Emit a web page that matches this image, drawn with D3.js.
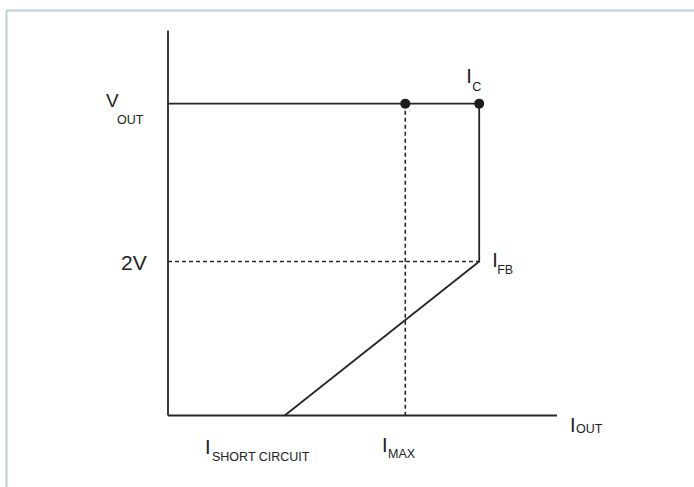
<!DOCTYPE html>
<html>
<head>
<meta charset="utf-8">
<script src="https://cdn.jsdelivr.net/npm/d3@7"></script>
<style>
  body { margin: 0; background: #fff; }
  svg { display: block; }
</style>
</head>
<body>
<div id="chart"></div>
<script>
// axis positions (arbitrary units, 0..100)
const xMarks = ["SHORT CIRCUIT", "MAX", "C"];
const xMarkValues = [30, 61, 80];
const yMarks = ["2V", "OUT"];
const yMarkValues = [40, 81];

// solid I-V curve: Vout plateau, drop at Ic, foldback to short circuit
const curveX = [0, 80, 80, 30];
const curveY = [81, 81, 40, 0];

// dots on the Vout line
const dotX = [61, 80];
const dotY = [81, 81];

const width = 694, height = 487;
const ink = "#262626";

const svg = d3.select("#chart").append("svg")
    .attr("width", width)
    .attr("height", height)
    .style("font-family", "'Liberation Sans', Arial, sans-serif");

// frame
svg.append("rect")
    .attr("x", 6.5).attr("y", 10.5)
    .attr("width", width).attr("height", height)
    .attr("fill", "none")
    .attr("stroke", "#bcd2db")
    .attr("stroke-width", 2);

const x = d3.scaleLinear().domain([0, 100]).range([168, 557]);
const y = d3.scaleLinear().domain([0, 100]).range([415.5, 30.5]);

// axes
svg.append("line")
    .attr("x1", x(0)).attr("x2", x(0))
    .attr("y1", y(0)).attr("y2", y(100))
    .attr("stroke", ink).attr("stroke-width", 1.8);
svg.append("line")
    .attr("x1", x(0)).attr("x2", x(100))
    .attr("y1", y(0)).attr("y2", y(0))
    .attr("stroke", ink).attr("stroke-width", 1.8);

// dashed guides: 2V horizontal to Ifb, Imax vertical
svg.append("line")
    .attr("x1", x(0)).attr("x2", x(xMarkValues[2]))
    .attr("y1", y(yMarkValues[0])).attr("y2", y(yMarkValues[0]))
    .attr("stroke", ink).attr("stroke-width", 1.6)
    .attr("stroke-dasharray", "4,3");
svg.append("line")
    .attr("x1", x(xMarkValues[1])).attr("x2", x(xMarkValues[1]))
    .attr("y1", y(yMarkValues[1])).attr("y2", y(0))
    .attr("stroke", ink).attr("stroke-width", 1.6)
    .attr("stroke-dasharray", "4,3");

// curve
const line = d3.line().x(d => x(d[0])).y(d => y(d[1]));
svg.append("path")
    .attr("d", line(d3.zip(curveX, curveY)))
    .attr("fill", "none")
    .attr("stroke", ink)
    .attr("stroke-width", 1.8);

svg.selectAll(".dot")
    .data(d3.zip(dotX, dotY))
    .enter().append("circle")
    .attr("class", "dot")
    .attr("cx", d => x(d[0]))
    .attr("cy", d => y(d[1]))
    .attr("r", 5)
    .attr("fill", "#1e1e1e");

// label helper: main letter + subscript
function label(px, py, main, sub, mainSize, subDx, subDy) {
    const t = svg.append("text")
        .attr("x", px).attr("y", py)
        .attr("fill", "#222")
        .style("font-size", mainSize + "px");
    t.append("tspan").text(main);
    if (sub) {
        t.append("tspan")
            .attr("x", px + subDx)
            .attr("dy", subDy)
            .style("font-size", "12.5px")
            .text(sub);
    }
}

// y labels
label(106, y(yMarkValues[1]) + 3, "V", yMarks[1], 19, 11, 17);
svg.append("text")
    .attr("x", 121).attr("y", y(yMarkValues[0]) + 8.5)
    .attr("fill", "#222")
    .style("font-size", "21px")
    .text(yMarks[0]);

// x labels
label(205, 454, "I", xMarks[0], 20, 7, 7);
label(382, 452, "I", xMarks[1], 20, 6, 6);
label(x(xMarkValues[2]) - 13, 83, "I", xMarks[2], 20, 6, 8);
label(x(xMarkValues[2]) + 13, 267, "I", "FB", 20, 5, 7);
label(570, 432, "I", "OUT", 20, 6, 1);
</script>
</body>
</html>
